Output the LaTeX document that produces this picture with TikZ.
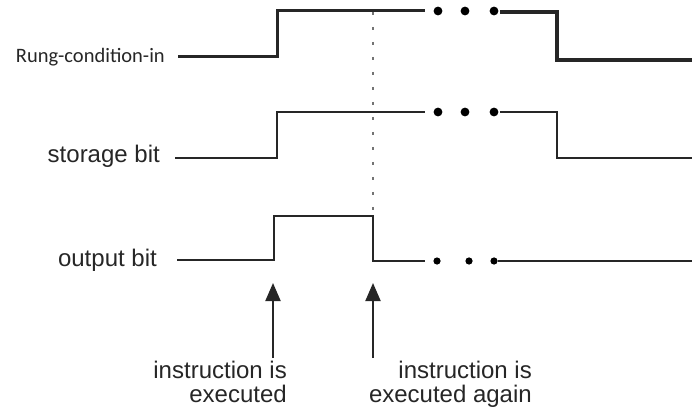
\documentclass[tikz,border=0pt]{standalone}
\usepackage{fontspec}
\setmainfont{Liberation Sans}
\newfontfamily\calibri{Carlito}
\usepackage{tikz}
\usetikzlibrary{arrows.meta,calc}

\begin{document}
\begin{tikzpicture}[x=1pt, y=-1pt,
  lbl/.style={inner sep=0pt, font=\fontsize{24}{24}\selectfont, text=black!85},
  wave/.style={line width=2.6pt, black!85, line join=miter},
  dots/.style={fill=black},
  arrup/.style={-{Triangle[length=18pt,width=15pt]}, line width=2pt, black!85}]
  \useasboundingbox (0,0) rectangle (692,411);
  % signal names
  \node[lbl, anchor=east, font=\calibri\fontsize{20.5}{20.5}\selectfont] (rung) at (165,57) {Rung-condition-in};
  \node[lbl, anchor=east] (stor) at (160,156) {storage bit};
  \node[lbl, anchor=east] (outb) at (157,260) {output bit};
  % waveforms
  \draw[wave, line width=3pt] (178,57) -- (277,57) -- (277,11) -- (425,11);
  \foreach \x in {438,465,494} \fill[dots] (\x,11) circle (4.4);
  \draw[wave, line width=3.2pt] (500,12) -- (557,12) -- (557,60) -- (692,60);
  \draw[wave] (175,158) -- (277,158) -- (277,112) -- (425,112);
  \foreach \x in {438,465,494} \fill[dots] (\x,112) circle (4.4);
  \draw[wave] (500,112) -- (557,112) -- (557,158) -- (692,158);
  \draw[wave] (177,260) -- (274,260) -- (274,216) -- (373,216) -- (373,261) -- (425,261);
  \foreach \x in {437,469,494} \fill[dots] (\x,261) circle (3.6);
  \draw[wave] (498,261) -- (692,261);
  \draw[black!55, line width=2.6pt, dash pattern=on 2.6pt off 12.4pt] (373,12) -- (373,214);
  % execution marks
  \coordinate (t1) at (273,283);
  \coordinate (t2) at (373,283);
  \node[lbl, align=right, anchor=north east] (exec1) at (287,361) {instruction is\\executed};
  \node[lbl, align=right, anchor=north east] (exec2) at (532,361) {instruction is\\executed again};
  \draw[arrup] (t1 |- exec1.north) ++(0,-3) -- (t1);
  \draw[arrup] (t2 |- exec2.north) ++(0,-3) -- (t2);
\end{tikzpicture}
\end{document}
